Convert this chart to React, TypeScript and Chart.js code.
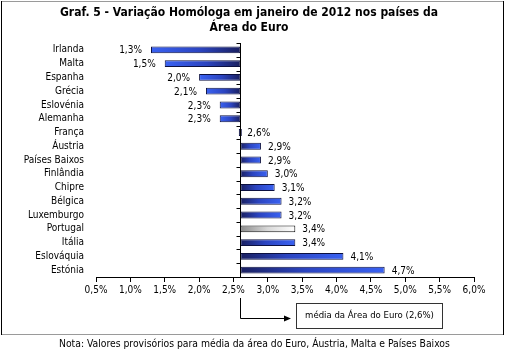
import { useEffect, useRef } from 'react';
import { Chart, registerables } from 'chart.js';

Chart.register(...registerables);

const categories = [
  'Irlanda', 'Malta', 'Espanha', 'Grécia', 'Eslovénia', 'Alemanha', 'França', 'Áustria',
  'Países Baixos', 'Finlândia', 'Chipre', 'Bélgica', 'Luxemburgo', 'Portugal', 'Itália',
  'Eslováquia', 'Estónia',
];
const values = [1.3, 1.5, 2.0, 2.1, 2.3, 2.3, 2.6, 2.9, 2.9, 3.0, 3.1, 3.2, 3.2, 3.4, 3.4, 4.1, 4.7];
const euroAverage = 2.6;
const highlightCategory = 'Portugal';
const xMin = 0.5;
const xMax = 6.0;
const xStep = 0.5;
const titleLines = ['Graf. 5 - Variação Homóloga em janeiro de 2012 nos países da', 'Área do Euro'];
const annotationText = 'média da Área do Euro (2,6%)';
const noteText = 'Nota: Valores provisórios para média da área do Euro, Áustria, Malta e Países Baixos';

const FONT = '"DejaVu Sans Condensed", "DejaVu Sans", sans-serif';
const fmt = (v: number) => v.toFixed(1).replace('.', ',') + '%';

const decorPlugin = {
  id: 'decor',
  beforeDraw(chart: any) {
    const ctx = chart.ctx;
    ctx.save();
    ctx.fillStyle = '#ffffff';
    ctx.fillRect(0, 0, chart.width, chart.height);
    // frame
    ctx.lineWidth = 1;
    ctx.strokeStyle = '#9a9a9a';
    ctx.beginPath();
    ctx.moveTo(1, 1.5); ctx.lineTo(504, 1.5);
    ctx.moveTo(1, 334.5); ctx.lineTo(504, 334.5);
    ctx.stroke();
    ctx.strokeStyle = '#000000';
    ctx.beginPath();
    ctx.moveTo(1.5, 1); ctx.lineTo(1.5, 335);
    ctx.moveTo(503.5, 1); ctx.lineTo(503.5, 335);
    ctx.stroke();
    // title
    ctx.fillStyle = '#000000';
    ctx.font = 'bold 12px ' + FONT;
    ctx.textAlign = 'center';
    ctx.textBaseline = 'middle';
    ctx.fillText(titleLines[0], 249, 13);
    ctx.fillText(titleLines[1], 249, 28);
    ctx.restore();
  },
  afterDatasetsDraw(chart: any) {
    const ctx = chart.ctx;
    const xs = chart.scales.x;
    const area = chart.chartArea;
    const bx = Math.round(xs.getPixelForValue(euroAverage)) + 0.5;
    ctx.save();
    // vertical axis at euro average
    ctx.strokeStyle = '#000000';
    ctx.lineWidth = 1;
    ctx.beginPath();
    ctx.moveTo(bx, area.top);
    ctx.lineTo(bx, area.bottom);
    const n = categories.length;
    const step = (area.bottom - area.top) / n;
    for (let k = 0; k <= n; k++) {
      const y = Math.round(area.top + k * step) + 0.5;
      ctx.moveTo(bx - 4, y);
      ctx.lineTo(bx, y);
    }
    ctx.stroke();
    // data labels
    const meta = chart.getDatasetMeta(0);
    ctx.fillStyle = '#000000';
    ctx.font = '10px ' + FONT;
    ctx.textBaseline = 'middle';
    meta.data.forEach((el: any, i: number) => {
      const v = values[i];
      const tip = xs.getPixelForValue(v);
      if (v < euroAverage) {
        ctx.textAlign = 'right';
        ctx.fillText(fmt(v), tip - 9, el.y + 1);
      } else {
        ctx.textAlign = 'left';
        const t = Math.max(tip, el.x);
        ctx.fillText(fmt(v), t + 7, el.y + 1);
      }
    });
    // annotation arrow + box
    ctx.beginPath();
    ctx.moveTo(bx, 298);
    ctx.lineTo(bx, 318.5);
    ctx.lineTo(285, 318.5);
    ctx.stroke();
    ctx.beginPath();
    ctx.moveTo(291, 318.5);
    ctx.lineTo(284, 315.5);
    ctx.lineTo(284, 321.5);
    ctx.closePath();
    ctx.fill();
    ctx.strokeStyle = '#333333';
    ctx.strokeRect(296.5, 303.5, 146, 25);
    ctx.textAlign = 'center';
    ctx.font = '9.5px ' + FONT;
    ctx.fillText(annotationText, 369.5, 316);
    // note
    ctx.textAlign = 'left';
    ctx.font = '10.3px ' + FONT;
    ctx.fillText(noteText, 59, 344);
    ctx.restore();
  },
};

function barColor(c: any) {
  const chart = c.chart;
  const i = c.dataIndex;
  const xs = chart.scales && chart.scales.x;
  const isHighlight = categories[i] === highlightCategory;
  const dark = isHighlight ? '#8a8a8a' : '#1c2266';
  if (!xs || i == null || !chart.chartArea) return dark;
  const x0 = xs.getPixelForValue(euroAverage);
  const x1 = xs.getPixelForValue(values[i]);
  if (Math.abs(x1 - x0) < 1) return dark;
  const g = chart.ctx.createLinearGradient(x0, 0, x1, 0);
  if (isHighlight) {
    g.addColorStop(0, '#8c8c8c');
    g.addColorStop(0.5, '#d8d8d8');
    g.addColorStop(1, '#ffffff');
  } else {
    g.addColorStop(0, '#1a2060');
    g.addColorStop(0.45, '#2b44c0');
    g.addColorStop(1, '#3a62f2');
  }
  return g;
}

export default function App() {
  const ref = useRef<HTMLCanvasElement | null>(null);
  useEffect(() => {
    if (!ref.current) return;
    const chart = new Chart(ref.current, {
      type: 'bar',
      data: {
        labels: categories,
        datasets: [
          {
            data: values,
            base: euroAverage,
            backgroundColor: barColor,
            borderColor: (c: any) => (categories[c.dataIndex] === highlightCategory ? '#111111' : '#0c1040'),
            borderWidth: 1,
            borderSkipped: false,
            barPercentage: 0.5,
            categoryPercentage: 1,
            minBarLength: 3,
          } as any,
        ],
      },
      options: {
        indexAxis: 'y',
        responsive: false,
        animation: false,
        layout: { padding: { top: 43, right: 36, bottom: 0, left: 0 } },
        plugins: {
          legend: { display: false },
          title: { display: false },
          tooltip: { enabled: false },
        },
        scales: {
          x: {
            type: 'linear',
            min: xMin,
            max: xMax,
            afterFit: (s: any) => { s.height = 78; },
            ticks: {
              stepSize: xStep,
              color: '#000000',
              font: { family: FONT, size: 10 },
              padding: 2,
              callback: (v: any) => fmt(Number(v)),
            },
            grid: { drawOnChartArea: false, drawTicks: true, tickLength: 5, color: '#000000' },
            border: { display: true, color: '#000000' },
          },
          y: {
            afterFit: (s: any) => { s.width = 96; },
            ticks: {
              color: '#000000',
              font: { family: FONT, size: 10 },
              padding: 12,
              autoSkip: false,
            },
            grid: { display: false, drawTicks: false },
            border: { display: false },
          },
        },
      },
      plugins: [decorPlugin],
    });
    return () => chart.destroy();
  }, []);
  return (
    <canvas
      ref={ref}
      width={510}
      height={355}
      style={{ position: 'absolute', left: 0, top: 0, display: 'block' }}
    />
  );
}
